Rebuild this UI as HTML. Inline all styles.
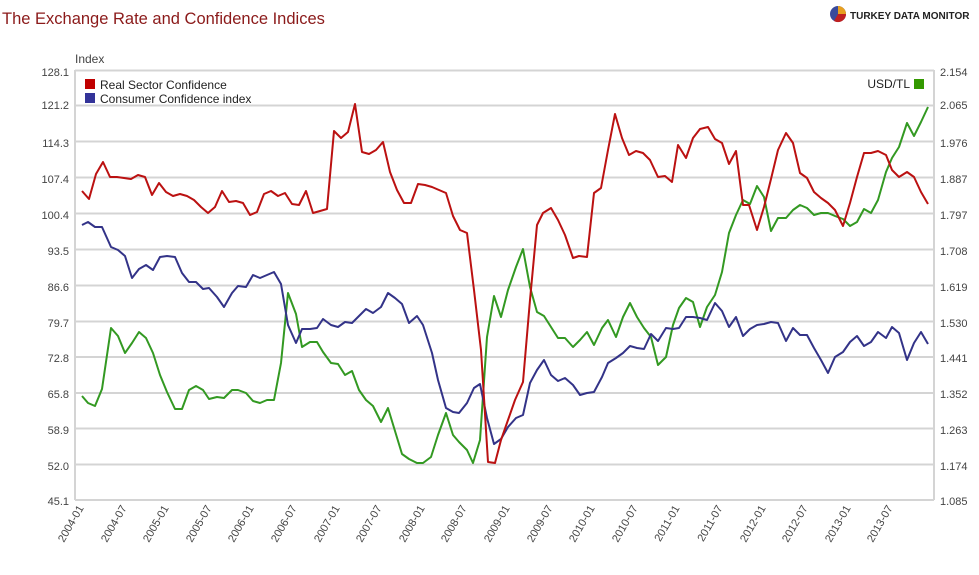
<!DOCTYPE html>
<html><head><meta charset="utf-8"><style>
body{margin:0;background:#fff;width:979px;height:570px;overflow:hidden;font-family:"Liberation Sans",sans-serif}
</style></head><body>
<svg width="979" height="570" xmlns="http://www.w3.org/2000/svg" font-family="Liberation Sans, sans-serif">
<text x="2" y="24" font-size="16.5" fill="#8b1a1a">The Exchange Rate and Confidence Indices</text>
<g transform="translate(838,14)">
<circle r="8" fill="#3a4a9a"/><path d="M0 0 L0 -8 A8 8 0 0 1 8 0 Z" fill="#e8a020"/><path d="M0 0 L8 0 A8 8 0 0 1 -4 7 Z" fill="#c02020"/>
</g>
<text x="850" y="19" font-size="10" font-weight="bold" fill="#222">TURKEY DATA MONITOR</text>
<text x="75" y="63" font-size="12" fill="#444">Index</text>
<g stroke="#d4d4d4" stroke-width="2">
<line x1="75" y1="70.5" x2="934" y2="70.5"/><line x1="75" y1="105.5" x2="934" y2="105.5"/><line x1="75" y1="141.5" x2="934" y2="141.5"/><line x1="75" y1="177.5" x2="934" y2="177.5"/><line x1="75" y1="213.5" x2="934" y2="213.5"/><line x1="75" y1="249.5" x2="934" y2="249.5"/><line x1="75" y1="285.5" x2="934" y2="285.5"/><line x1="75" y1="321.5" x2="934" y2="321.5"/><line x1="75" y1="357" x2="934" y2="357"/><line x1="75" y1="393" x2="934" y2="393"/><line x1="75" y1="428.5" x2="934" y2="428.5"/><line x1="75" y1="464.5" x2="934" y2="464.5"/><line x1="75" y1="500" x2="934" y2="500"/>
<line x1="75" y1="70" x2="75" y2="500"/><line x1="934" y1="70" x2="934" y2="500"/>
</g>
<g font-size="11" fill="#444" text-anchor="end">
<text x="69" y="76">128.1</text><text x="69" y="109">121.2</text><text x="69" y="147">114.3</text><text x="69" y="183">107.4</text><text x="69" y="219">100.4</text><text x="69" y="255">93.5</text><text x="69" y="291">86.6</text><text x="69" y="327">79.7</text><text x="69" y="362">72.8</text><text x="69" y="398">65.8</text><text x="69" y="434">58.9</text><text x="69" y="470">52.0</text><text x="69" y="505">45.1</text>
</g>
<g font-size="11" fill="#444">
<text x="940" y="76">2.154</text><text x="940" y="109">2.065</text><text x="940" y="147">1.976</text><text x="940" y="183">1.887</text><text x="940" y="219">1.797</text><text x="940" y="255">1.708</text><text x="940" y="291">1.619</text><text x="940" y="327">1.530</text><text x="940" y="362">1.441</text><text x="940" y="398">1.352</text><text x="940" y="434">1.263</text><text x="940" y="470">1.174</text><text x="940" y="505">1.085</text>
</g>
<g font-size="11" fill="#444" text-anchor="end">
<text transform="translate(84,508) rotate(-60)">2004-01</text>
<text transform="translate(127,508) rotate(-60)">2004-07</text>
<text transform="translate(169,508) rotate(-60)">2005-01</text>
<text transform="translate(212,508) rotate(-60)">2005-07</text>
<text transform="translate(254,508) rotate(-60)">2006-01</text>
<text transform="translate(297,508) rotate(-60)">2006-07</text>
<text transform="translate(340,508) rotate(-60)">2007-01</text>
<text transform="translate(382,508) rotate(-60)">2007-07</text>
<text transform="translate(425,508) rotate(-60)">2008-01</text>
<text transform="translate(467,508) rotate(-60)">2008-07</text>
<text transform="translate(510,508) rotate(-60)">2009-01</text>
<text transform="translate(553,508) rotate(-60)">2009-07</text>
<text transform="translate(595,508) rotate(-60)">2010-01</text>
<text transform="translate(638,508) rotate(-60)">2010-07</text>
<text transform="translate(680,508) rotate(-60)">2011-01</text>
<text transform="translate(723,508) rotate(-60)">2011-07</text>
<text transform="translate(766,508) rotate(-60)">2012-01</text>
<text transform="translate(808,508) rotate(-60)">2012-07</text>
<text transform="translate(851,508) rotate(-60)">2013-01</text>
<text transform="translate(893,508) rotate(-60)">2013-07</text>
</g>
<rect x="85" y="79" width="10" height="10" fill="#c00000"/>
<text x="100" y="89" font-size="12" fill="#222">Real Sector Confidence</text>
<rect x="85" y="93" width="10" height="10" fill="#333399"/>
<text x="100" y="103" font-size="12" fill="#222">Consumer Confidence index</text>
<text x="910" y="88" font-size="12" fill="#222" text-anchor="end">USD/TL</text>
<rect x="914" y="79" width="10" height="10" fill="#339900"/>
<g fill="none" stroke-width="2" stroke-linejoin="round">
<polyline stroke="#339922" points="82,396 88,403 95,406 102,389 111,328 118,336 125,353 132,343 139,332 146,338 153,353 160,375 167,392 175,409 182,409 189,390 196,386 203,390 209,399 217,397 224,398 232,390 238,390 246,393 253,401 260,403 267,400 274,400 281,363 288,293 296,314 302,347 310,342 317,342 323,352 331,363 338,364 345,375 352,371 359,390 366,400 373,406 381,422 388,408 395,431 402,454 409,459 417,463 423,463 431,457 438,435 446,413 453,435 459,442 467,450 473,463 480,440 487,337 494,296 501,317 508,290 516,267 523,249 530,287 537,312 544,316 551,327 558,338 565,338 573,347 580,340 587,332 594,345 602,328 608,320 616,337 623,317 630,303 637,317 644,328 651,337 658,365 666,357 673,325 679,308 686,298 693,302 700,327 707,307 715,295 722,272 729,233 736,215 743,200 750,204 757,186 764,197 771,231 778,218 786,218 793,210 800,205 807,208 814,215 821,213 828,213 835,216 843,219 850,226 857,222 864,209 871,213 878,200 886,172 892,158 899,147 907,123 914,136 921,122 928,107"/>
<polyline stroke="#333388" points="82,225 88,222 95,227 102,227 111,247 118,250 125,256 132,278 139,269 146,265 153,270 160,257 167,256 175,257 182,273 189,282 196,282 203,289 209,288 217,297 224,307 232,293 238,286 246,287 253,275 260,278 267,275 274,272 281,284 288,325 296,343 302,329 310,329 317,328 323,319 331,325 338,327 345,322 352,323 359,316 366,309 373,313 381,307 388,293 395,298 402,304 409,323 417,316 423,325 432,353 438,380 446,408 453,412 459,413 467,403 474,388 480,384 487,418 494,444 501,439 508,427 516,418 523,415 530,383 537,370 544,360 551,375 558,381 565,378 573,385 580,395 587,393 594,392 602,377 608,363 616,358 623,353 630,346 637,348 644,349 651,334 658,341 666,328 673,329 679,328 686,317 693,317 700,318 707,320 715,303 722,311 729,327 736,317 743,336 750,329 757,325 764,324 771,322 778,323 786,341 793,328 800,335 807,335 814,348 821,360 828,373 835,357 843,352 850,342 857,336 864,346 871,342 878,332 886,338 892,327 899,333 907,360 914,343 921,332 928,344"/>
<polyline stroke="#bb1111" points="82,191 89,199 96,174 103,162 110,177 117,177 124,178 131,179 138,175 145,177 152,195 159,183 166,192 173,196 180,194 187,196 194,200 201,207 208,213 215,207 222,191 229,202 236,201 243,203 250,215 257,212 264,194 271,191 278,196 285,193 292,204 299,205 306,191 313,213 320,211 327,209 334,131 341,138 348,132 355,104 362,152 369,154 376,150 383,142 390,172 397,190 404,203 411,203 418,184 425,185 432,187 439,190 446,193 453,216 460,230 467,233 474,290 481,350 488,462 495,463 501,440 508,420 515,400 523,382 530,300 537,225 543,213 551,208 558,220 565,235 573,258 579,256 587,257 594,193 601,188 608,150 615,114 622,138 629,155 636,151 643,153 650,160 658,177 665,176 672,182 678,145 686,158 693,138 700,129 708,127 715,139 722,143 729,164 736,151 743,205 749,205 757,230 764,207 771,179 778,150 786,133 793,143 800,173 807,178 814,192 821,198 828,203 835,210 843,226 850,203 857,177 864,153 871,153 878,151 886,155 892,170 899,177 907,172 914,177 921,192 928,204"/>
</g>
</svg>
</body></html>
